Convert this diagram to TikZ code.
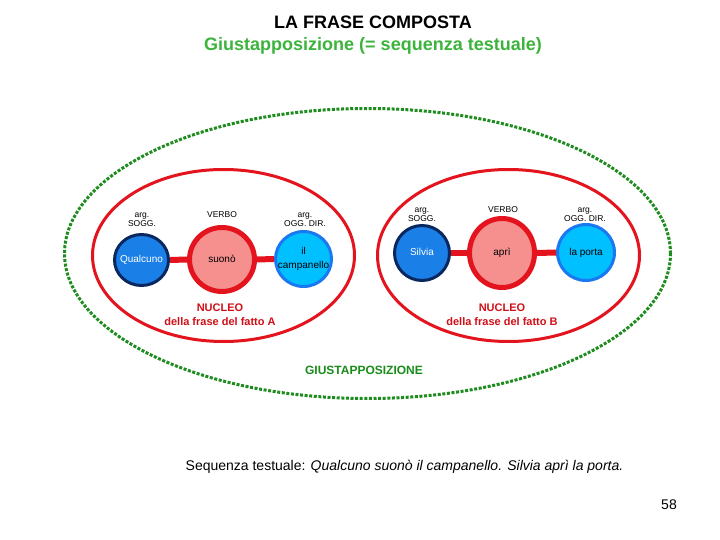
\documentclass[tikz,border=0pt]{standalone}
\usepackage{fontspec}
\setmainfont{Liberation Sans}
\usetikzlibrary{shapes.geometric}
\definecolor{gdash}{HTML}{1E8C1E}
\definecolor{gtitle}{HTML}{3CB43C}
\definecolor{gtext}{HTML}{1A8C1A}
\definecolor{rline}{HTML}{E3141E}
\definecolor{rtext}{HTML}{D01018}
\definecolor{pinkfill}{HTML}{F5908F}
\definecolor{navy}{HTML}{0A2860}
\definecolor{bluefill}{HTML}{1A80E8}
\definecolor{cyanborder}{HTML}{1A78F0}
\definecolor{cyanfill}{HTML}{00C0FF}
\begin{document}
\begin{tikzpicture}[x=1pt,y=-1pt,
  frame/.style={ellipse,draw=rline,line width=3pt,inner sep=0pt},
  intext/.style={inner sep=0pt,align=center,text height=7pt,text depth=2pt,font=\fontsize{10}{13.5}\selectfont},
  twoline/.style={inner sep=0pt,align=center,font=\fontsize{10}{13.5}\selectfont},
  subj/.style={ellipse,draw=navy,fill=bluefill,line width=3pt,inner sep=0pt,label={[intext,text=white]center:#1}},
  verb/.style={ellipse,draw=rline,fill=pinkfill,line width=5pt,inner sep=0pt,label={[intext]center:#1}},
  obj/.style={ellipse,draw=cyanborder,fill=cyanfill,line width=3pt,inner sep=0pt,label={[intext]center:#1}},
  objtwo/.style={ellipse,draw=cyanborder,fill=cyanfill,line width=3pt,inner sep=0pt,label={[twoline]center:#1}},
  tag/.style={inner sep=0pt,align=center,font=\fontsize{8.5}{9}\selectfont},
  nucleo/.style={inner sep=0pt,align=center,text=rtext,font=\bfseries\fontsize{11}{14}\selectfont},
  link/.style={draw=rline,line width=6pt}]
\useasboundingbox[fill=white] (0,0) rectangle (720,540);
% titles
\node[inner sep=0pt,font=\bfseries\fontsize{18}{20}\selectfont] (t1) at (373,22) {LA FRASE COMPOSTA};
\node[inner sep=0pt,text=gtitle,font=\bfseries\fontsize{18}{20}\selectfont] (t2) at (373,46) {Giustapposizione (= sequenza testuale)};
% big green ellipse
\node[ellipse,draw=gdash,line width=3pt,dash pattern=on 3pt off 1.6pt,minimum width=606pt,minimum height=290pt,inner sep=0pt] (g) at (367.5,253.5) {};
\node[inner sep=0pt,text=gtext,font=\bfseries\fontsize{12}{14}\selectfont] (gl) at (364,370) {GIUSTAPPOSIZIONE};
% red ellipses
\node[frame,minimum width=262pt,minimum height=172pt] (A) at (223.5,255.5) {};
\node[frame,minimum width=262pt,minimum height=172pt] (B) at (508.5,255.5) {};
% phrase A
\node[subj={Qualcuno},minimum width=54pt,minimum height=51pt] (qa) at (141.5,260) {};
\node[verb={suonò},minimum width=65pt,minimum height=64pt] (va) at (222,259.5) {};
\node[objtwo={il\\campanello},minimum width=56pt,minimum height=55pt] (oa) at (303.5,259) {};
\draw[link] (qa.east) -- (va.west);
\draw[link] (va.east) -- (oa.west);
\node[tag] (lqa) at (142,219.5) {arg.\\SOGG.};
\node[tag] (lva) at (222,215) {VERBO};
\node[tag] (loa) at (305,219.5) {arg.\\OGG. DIR.};
\node[nucleo] (na) at (220,315) {NUCLEO\\della frase del fatto A};
% phrase B
\node[subj={Silvia},minimum width=55pt,minimum height=55pt] (qb) at (422,253) {};
\node[verb={aprì},minimum width=65pt,minimum height=69pt] (vb) at (502,253) {};
\node[obj={la porta},minimum width=57pt,minimum height=56pt] (ob) at (586,252.5) {};
\draw[link] (qb.east) -- (vb.west);
\draw[link] (vb.east) -- (ob.west);
\node[tag] (lqb) at (422,215) {arg.\\SOGG.};
\node[tag] (lvb) at (503,210) {VERBO};
\node[tag] (lob) at (585,215) {arg.\\OGG. DIR.};
\node[nucleo] (nb) at (502,315) {NUCLEO\\della frase del fatto B};
% bottom text
\node[inner sep=0pt,font=\fontsize{14}{16}\selectfont] (seq) at (404.5,467) {Sequenza testuale: \textit{Qualcuno suonò il campanello. Silvia aprì la porta.}};
\node[inner sep=0pt,font=\fontsize{14}{16}\selectfont] (pg) at (669,505) {58};
\end{tikzpicture}
\end{document}
